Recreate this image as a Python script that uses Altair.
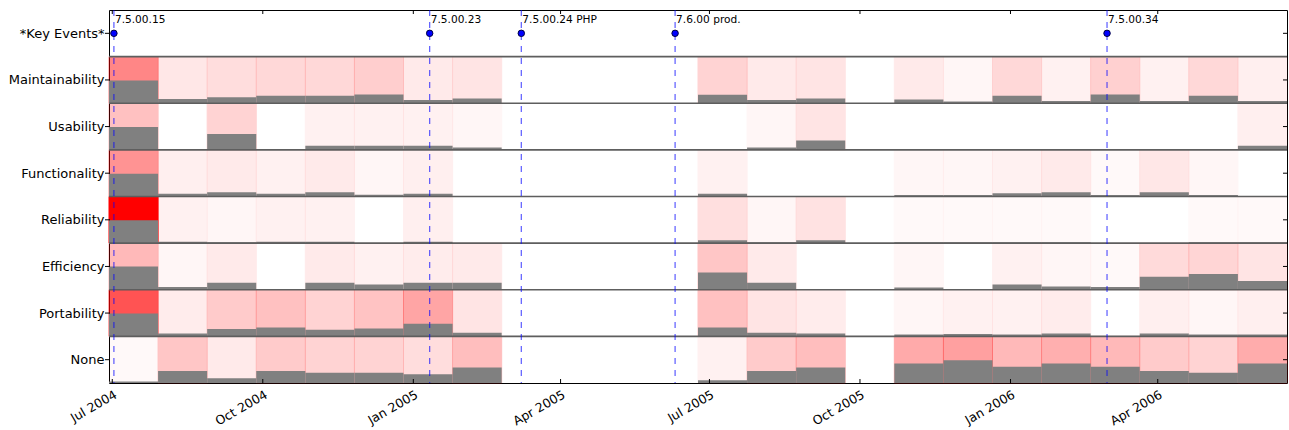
import json
import datetime as dt
import altair as alt
import pandas as pd

# ---------------- data ----------------
rows = ["*Key Events*", "Maintainability", "Usability", "Functionality",
        "Reliability", "Efficiency", "Portability", "None"]

bin_starts = ["2004-06-29", "2004-07-29", "2004-08-28", "2004-09-27", "2004-10-27",
              "2004-11-26", "2004-12-26", "2005-01-25", "2005-02-24", "2005-03-26",
              "2005-04-25", "2005-05-25", "2005-06-24", "2005-07-24", "2005-08-23",
              "2005-09-22", "2005-10-22", "2005-11-21", "2005-12-21", "2006-01-20",
              "2006-02-19", "2006-03-21", "2006-04-20", "2006-05-20"]
bin_end = "2006-06-19"

N = None
# share of issues (grey bar height) and intensity (red shade) per 30-day bin
maint_share = [0.49, 0.09, 0.13, 0.16, 0.16, 0.19, 0.07, 0.10, N, N, N, N,
               0.18, 0.07, 0.10, N, 0.08, 0.035, 0.16, 0.05, 0.19, 0.05, 0.16, 0.05]
maint_shade = [0.47, 0.09, 0.13, 0.15, 0.15, 0.19, 0.08, 0.10, N, N, N, N,
               0.17, 0.08, 0.10, N, 0.08, 0.03, 0.15, 0.05, 0.18, 0.05, 0.15, 0.06]

usab_share = [0.49, N, 0.34, N, 0.09, 0.09, 0.09, 0.05, N, N, N, N,
              N, 0.05, 0.20, N, N, N, N, N, N, N, N, 0.09]
usab_shade = [0.24, N, 0.17, N, 0.05, 0.05, 0.05, 0.03, N, N, N, N,
              N, 0.03, 0.10, N, N, N, N, N, N, N, N, 0.06]

func_share = [0.49, 0.06, 0.09, 0.06, 0.09, 0.035, 0.06, N, N, N, N, N,
              0.06, N, N, N, 0.03, 0.03, 0.07, 0.09, 0.03, 0.09, 0.03, N]
func_shade = [0.42, 0.06, 0.08, 0.05, 0.08, 0.03, 0.06, N, N, N, N, N,
              0.05, N, N, N, 0.03, 0.03, 0.05, 0.08, 0.02, 0.09, 0.03, N]

reli_share = [0.49, 0.03, 0.02, 0.03, 0.03, N, 0.03, N, N, N, N, N,
              0.06, 0.02, 0.06, N, 0.02, 0.02, 0.02, 0.02, N, N, 0.02, 0.02]
reli_shade = [1.00, 0.05, 0.03, 0.05, 0.05, N, 0.06, N, N, N, N, N,
              0.12, 0.03, 0.11, N, 0.02, 0.02, 0.02, 0.02, N, N, 0.02, 0.02]

effi_share = [0.50, 0.06, 0.15, N, 0.15, 0.11, 0.15, 0.15, N, N, N, N,
              0.37, 0.15, N, N, 0.05, N, 0.11, 0.07, 0.06, 0.28, 0.34, 0.19]
effi_shade = [0.27, 0.03, 0.08, N, 0.08, 0.05, 0.07, 0.08, N, N, N, N,
              0.22, 0.08, N, N, 0.03, N, 0.05, 0.03, 0.02, 0.14, 0.16, 0.10]

port_share = [0.49, 0.06, 0.16, 0.19, 0.14, 0.17, 0.27, 0.08, N, N, N, N,
              0.19, 0.08, 0.06, N, 0.04, 0.05, 0.04, 0.06, N, 0.06, 0.04, 0.04]
port_shade = [0.67, 0.07, 0.20, 0.24, 0.17, 0.23, 0.35, 0.10, N, N, N, N,
              0.24, 0.10, 0.07, N, 0.03, 0.05, 0.05, 0.07, N, 0.06, 0.03, 0.06]

none_share = [0.03, 0.26, 0.10, 0.26, 0.22, 0.22, 0.19, 0.33, N, N, N, N,
              0.06, 0.26, 0.33, N, 0.42, 0.49, 0.35, 0.42, 0.35, 0.26, 0.22, 0.42]
none_shade = [0.02, 0.22, 0.08, 0.20, 0.17, 0.17, 0.13, 0.25, N, N, N, N,
              0.05, 0.20, 0.25, N, 0.33, 0.37, 0.27, 0.31, 0.27, 0.20, 0.17, 0.32]

event_dates = ["2004-07-02", "2005-01-11", "2005-03-08", "2005-06-10", "2006-03-01"]
event_labels = ["7.5.00.15", "7.5.00.23", "7.5.00.24 PHP", "7.6.00 prod.", "7.5.00.34"]

tick_dates = ["2004-07-01", "2004-10-01", "2005-01-01", "2005-04-01",
              "2005-07-01", "2005-10-01", "2006-01-01", "2006-04-01"]

# ---------------- tables ----------------
series = {
    "Maintainability": (maint_share, maint_shade),
    "Usability": (usab_share, usab_shade),
    "Functionality": (func_share, func_shade),
    "Reliability": (reli_share, reli_shade),
    "Efficiency": (effi_share, effi_shade),
    "Portability": (port_share, port_shade),
    "None": (none_share, none_shade),
}
n_rows = len(rows)
ends = bin_starts[1:] + [bin_end]
recs = []
for name, (share, shade) in series.items():
    base = n_rows - 1 - rows.index(name)
    for i, (s, a) in enumerate(zip(share, shade)):
        if s is None:
            continue
        recs.append({"row": name, "start": bin_starts[i], "end": ends[i],
                     "base": base, "top": base + 1, "bar": base + s, "shade": a})
cells = pd.DataFrame(recs)

key_base = n_rows - 1 - rows.index("*Key Events*")
events = pd.DataFrame({"date": event_dates, "label": event_labels,
                       "y": [key_base + 0.5] * len(event_dates)})
seps = pd.DataFrame({"y": list(range(1, n_rows))})
centers = pd.DataFrame({"y": [k + 0.5 for k in range(n_rows)]})
ticks = pd.DataFrame({"date": tick_dates})


def to_dt(s):
    d = dt.date.fromisoformat(s)
    return alt.DateTime(year=d.year, month=d.month, date=d.day, utc=True)


W, H = 1178, 373
FONT = "DejaVu Sans"

xscale = alt.Scale(type="utc", domain=[to_dt(bin_starts[0]), to_dt(bin_end)])
yscale = alt.Scale(domain=[0, n_rows], nice=False, zero=False)

label_expr = json.dumps(rows) + "[" + str(n_rows - 1) + " - floor(datum.value)]"

x_axis = alt.Axis(values=[to_dt(t) for t in tick_dates],
                  labelExpr="utcFormat(datum.value, '%b %Y')",
                  labelAngle=-30, labelAlign="right", labelBaseline="top",
                  labelFontSize=12.5, labelFont=FONT, labelColor="black", labelPadding=5,
                  ticks=False, domain=False, grid=False, title=None)
y_axis = alt.Axis(values=[k + 0.5 for k in range(n_rows)], labelExpr=label_expr,
                  labelFontSize=13, labelFont=FONT, labelColor="black", labelPadding=5,
                  ticks=False, domain=False, grid=False, title=None)


def X(field):
    return alt.X(field, scale=xscale, axis=x_axis)


def Y(field):
    return alt.Y(field, scale=yscale, axis=y_axis)


red = alt.Chart(cells).mark_rect(color="red", stroke="red", strokeWidth=1).encode(
    x=X("start:T"), x2="end:T", y=Y("base:Q"), y2="top:Q",
    opacity=alt.Opacity("shade:Q", scale=None, legend=None),
)

grey = alt.Chart(cells).mark_rect(color="#808080").encode(
    x=X("start:T"), x2="end:T", y=Y("base:Q"), y2="bar:Q",
)

sep = alt.Chart(seps).mark_rule(color="#5e5e5e", strokeWidth=1.6).encode(y=Y("y:Q"))

vlines = alt.Chart(events).mark_rule(color="#0000ff", opacity=0.65, strokeWidth=1.2,
                                     strokeDash=[6, 6]).encode(x=X("date:T"))

dots = alt.Chart(events).mark_point(filled=True, color="#0000ff", stroke="#000040",
                                    strokeWidth=1, size=42, opacity=1).encode(
    x=X("date:T"), y=Y("y:Q"),
)

labels = alt.Chart(events).mark_text(align="left", baseline="middle", dx=1, dy=-13,
                                     fontSize=10.6, font=FONT, color="black").encode(
    x=X("date:T"), y=Y("y:Q"), text="label:N",
)

# tick marks like the original frame
lt = alt.Chart(centers).mark_rule(color="black").encode(
    y=Y("y:Q"), x=alt.value(-4), x2=alt.value(1))
rt = alt.Chart(centers).mark_rule(color="black").encode(
    y=Y("y:Q"), x=alt.value(W - 4), x2=alt.value(W))
tt = alt.Chart(ticks).mark_rule(color="black").encode(
    x=X("date:T"), y=alt.value(0), y2=alt.value(4))
bt = alt.Chart(ticks).mark_rule(color="black").encode(
    x=X("date:T"), y=alt.value(H - 4), y2=alt.value(H))

chart = alt.layer(red, grey, sep, vlines, dots, labels, lt, rt, tt, bt).properties(
    width=W, height=H,
    autosize=alt.AutoSizeParams(type="none"),
    padding={"left": 109, "top": 10, "right": 2, "bottom": 47},
    background="white",
).configure_view(stroke="black", strokeWidth=1)

chart.save("out.html", embed_options={"renderer": "svg", "actions": False})
